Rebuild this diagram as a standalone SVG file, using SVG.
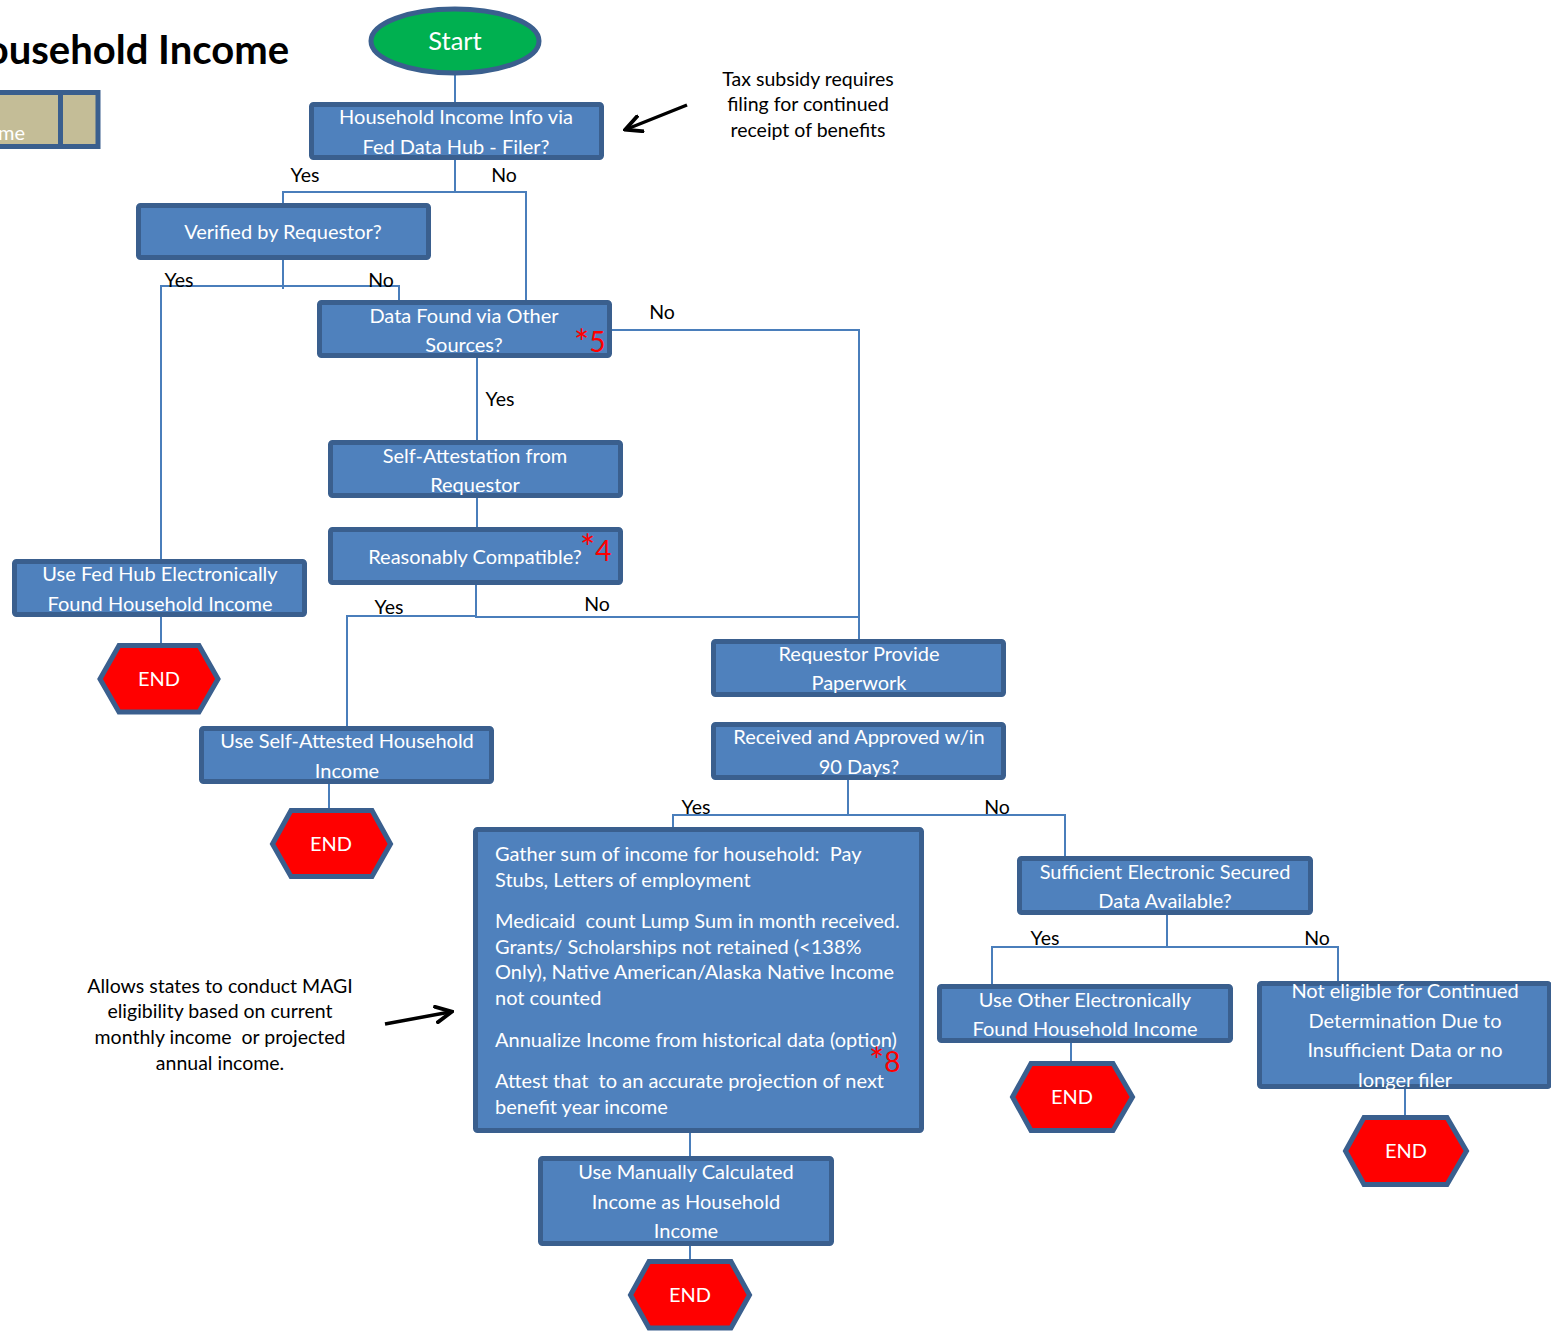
<svg xmlns="http://www.w3.org/2000/svg" width="1551" height="1331" viewBox="0 0 1551 1331">
  <style>
    .box { fill: #4F81BD; stroke: #3A5F8E; stroke-width: 5; }
    .end { fill: #FF0000; stroke: #3A5F8E; stroke-width: 5; stroke-linejoin: miter; }
    .t { font-family: Lato, "Open Sans", sans-serif; font-size: 20px; fill: #FFFFFF; text-anchor: middle; }
    .tl { font-family: Lato, "Open Sans", sans-serif; font-size: 20px; fill: #FFFFFF; white-space: pre; }
    .lbl { font-family: Lato, "Open Sans", sans-serif; font-size: 19.5px; fill: #000000; text-anchor: middle; }
    .note { font-family: Lato, "Open Sans", sans-serif; font-size: 19.5px; fill: #000000; text-anchor: middle; white-space: pre; }
    .ref { font-family: Lato, "Open Sans", sans-serif; fill: #FF0000; font-size: 28px; }
    .ref .star { font-size: 36px; }
    .conn { fill: none; stroke: #4A7EBB; stroke-width: 2; }
    .pointer { fill: none; stroke: #000000; stroke-width: 3.5; }
  </style>
  <defs>
    <marker id="arrowhead" viewBox="0 0 10 10" refX="8" refY="5" markerWidth="5.5" markerHeight="5.5" orient="auto" markerUnits="strokeWidth">
      <path d="M0,0.5 L9,5 L0,9.5" fill="none" stroke="#000000" stroke-width="2"/>
    </marker>
  </defs>
  <rect width="1551" height="1331" fill="#FFFFFF"/>

  <!-- page heading and legend strip -->
  <text x="289" y="64" text-anchor="end" font-family="Lato, 'Open Sans', sans-serif" font-weight="bold" font-size="40" fill="#000000">Household Income</text>
  <g id="legend">
    <rect x="-10" y="92.5" width="108" height="54" fill="#C4BD97" stroke="#3A5F8E" stroke-width="5"/>
    <line x1="60.5" y1="92" x2="60.5" y2="147" stroke="#3A5F8E" stroke-width="5"/>
    <text x="-2" y="140" font-family="Lato, 'Open Sans', sans-serif" font-size="20" fill="#FFFFFF">me</text>
  </g>

  <!-- connectors -->
  <g id="connectors">
    <polyline class="conn" points="455,74 455,102"/>
    <polyline class="conn" points="455,148 455,192"/>
    <polyline class="conn" points="283,203 283,192 526,192 526,300"/>
    <polyline class="conn" points="283,258 283,289"/>
    <polyline class="conn" points="161,559 161,286 399,286 399,300"/>
    <polyline class="conn" points="612,330 859,330 859,639"/>
    <polyline class="conn" points="477,350 477,440"/>
    <polyline class="conn" points="477,490 477,527"/>
    <polyline class="conn" points="476,585 476,617 859,617"/>
    <polyline class="conn" points="476,616 347,616 347,726"/>
    <polyline class="conn" points="161,617 161,643"/>
    <polyline class="conn" points="329,784 329,808"/>
    <polyline class="conn" points="848,770 848,815"/>
    <polyline class="conn" points="673,827 673,815 1065,815 1065,856"/>
    <polyline class="conn" points="1167,915 1167,947"/>
    <polyline class="conn" points="992,984 992,947 1338,947 1338,981"/>
    <polyline class="conn" points="1071,1043 1071,1061"/>
    <polyline class="conn" points="1405,1089 1405,1115"/>
    <polyline class="conn" points="690,1133 690,1156"/>
    <polyline class="conn" points="690,1246 690,1259"/>
  </g>

  <!-- branch labels -->
  <g id="branch-labels">
    <text class="lbl" x="305" y="182">Yes</text>
    <text class="lbl" x="504" y="182">No</text>
    <text class="lbl" x="179" y="287">Yes</text>
    <text class="lbl" x="381" y="287">No</text>
    <text class="lbl" x="662" y="319">No</text>
    <text class="lbl" x="500" y="406">Yes</text>
    <text class="lbl" x="389" y="614">Yes</text>
    <text class="lbl" x="597" y="611">No</text>
    <text class="lbl" x="696" y="814">Yes</text>
    <text class="lbl" x="997" y="814">No</text>
    <text class="lbl" x="1045" y="945">Yes</text>
    <text class="lbl" x="1317" y="945">No</text>
  </g>

  <!-- start terminal -->
  <g id="start">
    <ellipse cx="455" cy="41" rx="84" ry="32" fill="#00B050" stroke="#3A5F8E" stroke-width="5"/>
    <text x="455" y="50" text-anchor="middle" font-family="Lato, 'Open Sans', sans-serif" font-size="25.5" fill="#FFFFFF">Start</text>
  </g>

  <g id="filer-check">
    <rect class="box" x="311.5" y="104.5" width="290" height="53" rx="2"/>
    <text class="t" x="456" y="124">Household Income Info via</text>
    <text class="t" x="456" y="154">Fed Data Hub - Filer?</text>
  </g>

  <g id="verified-by-requestor">
    <rect class="box" x="138.5" y="205.5" width="290" height="52" rx="2"/>
    <text class="t" x="283" y="239">Verified by Requestor?</text>
  </g>

  <g id="other-sources">
    <rect class="box" x="319.5" y="302.5" width="290" height="53" rx="2"/>
    <text class="t" x="464" y="323">Data Found via Other</text>
    <text class="t" x="464" y="352">Sources?</text>
    <text class="ref" x="574" y="352"><tspan class="star" dy="4">*</tspan><tspan dy="-4">5</tspan></text>
  </g>

  <g id="self-attestation">
    <rect class="box" x="330.5" y="442.5" width="290" height="53" rx="2"/>
    <text class="t" x="475" y="463">Self-Attestation from</text>
    <text class="t" x="475" y="492">Requestor</text>
  </g>

  <g id="reasonably-compatible">
    <rect class="box" x="330.5" y="529.5" width="290" height="53" rx="2"/>
    <text class="t" x="475" y="564">Reasonably Compatible?</text>
    <text class="ref" x="580" y="561"><tspan class="star" dy="0">*</tspan><tspan>4</tspan></text>
  </g>

  <g id="use-fed-hub">
    <rect class="box" x="14.5" y="561.5" width="290" height="53" rx="2"/>
    <text class="t" x="160" y="581">Use Fed Hub Electronically</text>
    <text class="t" x="160" y="611">Found Household Income</text>
  </g>

  <g id="end-fed-hub">
    <polygon class="end" points="100,679 119,645.5 199,645.5 218,679 199,712 119,712"/>
    <text class="t" x="159" y="686">END</text>
  </g>

  <g id="use-self-attested">
    <rect class="box" x="201.5" y="728.5" width="290" height="53" rx="2"/>
    <text class="t" x="347" y="748">Use Self-Attested Household</text>
    <text class="t" x="347" y="778">Income</text>
  </g>

  <g id="end-self-attested">
    <polygon class="end" points="272.5,844 291,810.5 372,810.5 390.5,844 372,876.5 291,876.5"/>
    <text class="t" x="331" y="851">END</text>
  </g>

  <g id="provide-paperwork">
    <rect class="box" x="713.5" y="641.5" width="290" height="53" rx="2"/>
    <text class="t" x="859" y="661">Requestor Provide</text>
    <text class="t" x="859" y="690">Paperwork</text>
  </g>

  <g id="received-90-days">
    <rect class="box" x="713.5" y="724.5" width="290" height="53" rx="2"/>
    <text class="t" x="859" y="744">Received and Approved w/in</text>
    <text class="t" x="859" y="774">90 Days?</text>
  </g>

  <g id="gather-income">
    <rect class="box" x="475.5" y="829.5" width="446" height="301" rx="2"/>
    <text class="tl" x="495" y="861">Gather sum of income for household:  Pay</text>
    <text class="tl" x="495" y="887">Stubs, Letters of employment</text>
    <text class="tl" x="495" y="928">Medicaid  count Lump Sum in month received.</text>
    <text class="tl" x="495" y="954">Grants/ Scholarships not retained (&lt;138%</text>
    <text class="tl" x="495" y="979">Only), Native American/Alaska Native Income</text>
    <text class="tl" x="495" y="1005">not counted</text>
    <text class="tl" x="495" y="1047">Annualize Income from historical data (option)</text>
    <text class="tl" x="495" y="1088">Attest that  to an accurate projection of next</text>
    <text class="tl" x="495" y="1114">benefit year income</text>
    <text class="ref" x="869" y="1072"><tspan class="star" dy="2">*</tspan><tspan dy="-2">8</tspan></text>
  </g>

  <g id="electronic-data">
    <rect class="box" x="1019.5" y="858.5" width="291" height="54" rx="2"/>
    <text class="t" x="1165" y="879">Sufficient Electronic Secured</text>
    <text class="t" x="1165" y="908">Data Available?</text>
  </g>

  <g id="use-other-electronic">
    <rect class="box" x="939.5" y="986.5" width="291" height="54" rx="2"/>
    <text class="t" x="1085" y="1007">Use Other Electronically</text>
    <text class="t" x="1085" y="1036">Found Household Income</text>
  </g>

  <g id="end-other-electronic">
    <polygon class="end" points="1012.5,1097 1031,1063.5 1113,1063.5 1132.5,1097 1113,1130.5 1031,1130.5"/>
    <text class="t" x="1072" y="1104">END</text>
  </g>

  <g id="not-eligible">
    <rect class="box" x="1259.5" y="983.5" width="290" height="103" rx="2"/>
    <text class="t" x="1405" y="998">Not eligible for Continued</text>
    <text class="t" x="1405" y="1028">Determination Due to</text>
    <text class="t" x="1405" y="1057">Insufficient Data or no</text>
    <text class="t" x="1405" y="1087">longer filer</text>
  </g>

  <g id="end-not-eligible">
    <polygon class="end" points="1345.5,1151 1364,1117.5 1447,1117.5 1466.5,1151 1447,1184.5 1364,1184.5"/>
    <text class="t" x="1406" y="1158">END</text>
  </g>

  <g id="use-manual">
    <rect class="box" x="540.5" y="1158.5" width="291" height="85" rx="2"/>
    <text class="t" x="686" y="1179">Use Manually Calculated</text>
    <text class="t" x="686" y="1209">Income as Household</text>
    <text class="t" x="686" y="1238">Income</text>
  </g>

  <g id="end-manual">
    <polygon class="end" points="630.5,1295 649,1261.5 731,1261.5 749.5,1295 731,1328 649,1328"/>
    <text class="t" x="690" y="1302">END</text>
  </g>

  <!-- side notes -->
  <g id="note-tax-subsidy">
    <text class="note" x="808" y="86">Tax subsidy requires</text>
    <text class="note" x="808" y="111">filing for continued</text>
    <text class="note" x="808" y="137">receipt of benefits</text>
    <line class="pointer" x1="687" y1="105" x2="627" y2="129" marker-end="url(#arrowhead)"/>
  </g>

  <g id="note-magi">
    <text class="note" x="220" y="993">Allows states to conduct MAGI</text>
    <text class="note" x="220" y="1018">eligibility based on current</text>
    <text class="note" x="220" y="1044">monthly income  or projected</text>
    <text class="note" x="220" y="1070">annual income.</text>
    <line class="pointer" x1="385" y1="1024" x2="450" y2="1012" marker-end="url(#arrowhead)"/>
  </g>
</svg>
